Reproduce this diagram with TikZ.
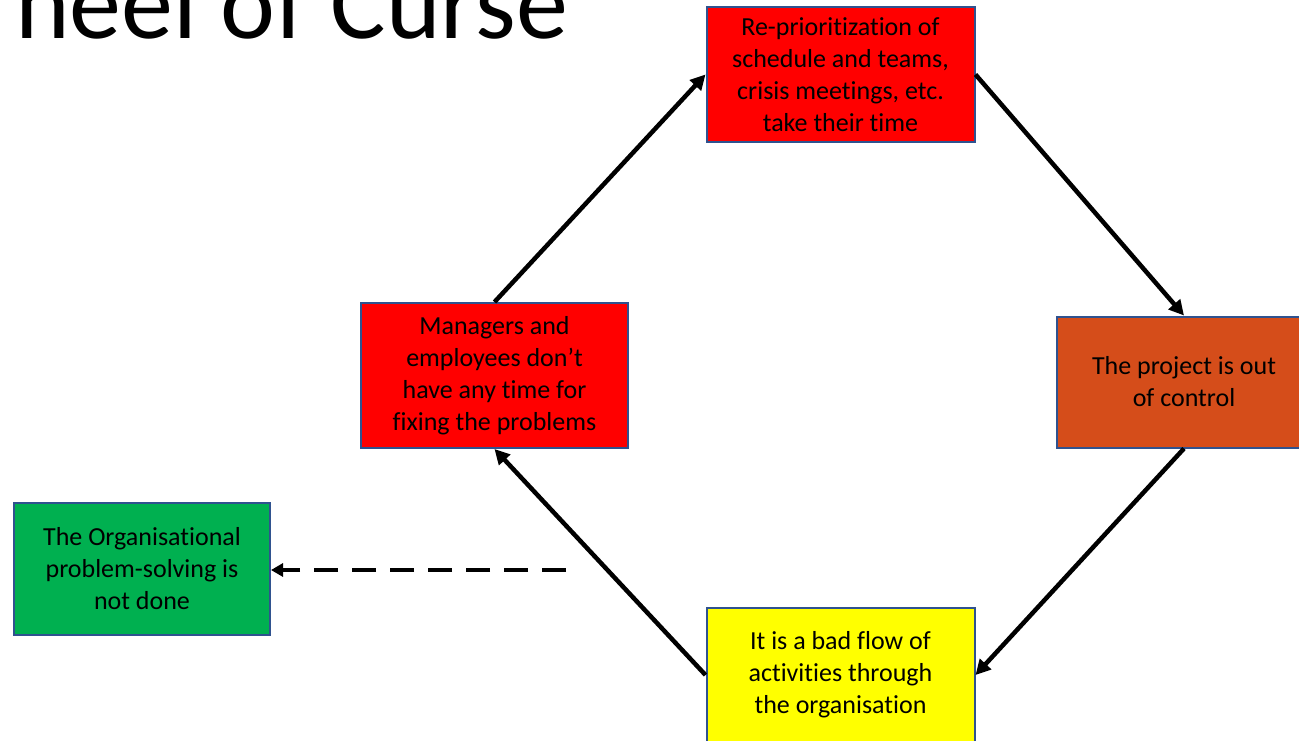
\documentclass[tikz,border=0pt]{standalone}
\usepackage{fontspec}
\setmainfont[Ligatures=NoCommon]{Carlito}
\newfontfamily\boxfont[Ligatures=NoCommon]{Carlito}
\usetikzlibrary{arrows.meta}
\definecolor{bordercol}{RGB}{47,82,143}
\definecolor{boxred}{RGB}{255,0,0}
\definecolor{boxorange}{RGB}{213,77,26}
\definecolor{boxgreen}{RGB}{0,176,80}
\definecolor{boxyellow}{RGB}{255,255,0}
\tikzset{
  stagebox/.style={draw=bordercol, line width=2pt, align=center, inner sep=0pt,
    font=\boxfont\fontsize{26}{32}\selectfont, text=black},
  flow/.style={line width=4.5pt, -{Triangle[length=15pt,width=15pt]}},
  sideflow/.style={line width=4.5pt, dash pattern=on 24pt off 14pt, -{Triangle[length=12pt,width=13pt]}},
}
\begin{document}
\begin{tikzpicture}[x=1pt,y=-1pt]
\useasboundingbox (0,0) rectangle (1299,740);
\clip (0,0) rectangle (1299,740);
\fill[white] (0,0) rectangle (1299,740);
\node[anchor=base west, inner sep=0pt, font=\fontsize{104}{110}\selectfont] (title) at (15,38) {heel of Curse};
\node[stagebox, fill=boxred, minimum width=268pt, minimum height=135pt] (top) at (840.5,74.5)
  {Re-prioritization of\\schedule and teams,\\crisis meetings, etc.\\take their time};
\node[stagebox, fill=boxorange, minimum width=254pt, minimum height=131pt] (proj) at (1184,382)
  {The project is out\\of control};
\node[stagebox, fill=boxyellow, minimum width=268pt, minimum height=134pt] (flowbox) at (840.5,675)
  {It is a bad flow of\\activities through\\the organisation};
\node[stagebox, fill=boxred, minimum width=267pt, minimum height=145pt] (mgr) at (494.5,375.5)
  {Managers and\\employees don’t\\have any time for\\fixing the problems};
\node[stagebox, fill=boxgreen, minimum width=256pt, minimum height=132pt] (org) at (142,569)
  {The Organisational\\problem-solving is\\not done};
\coordinate (dashstart) at (566,570);
\draw[flow] (mgr.north) -- (top.west);
\draw[flow] (top.east) -- (proj.north);
\draw[flow] (proj.south) -- (flowbox.east);
\draw[flow] (flowbox.west) -- (mgr.south);
\draw[sideflow] (dashstart) -- (org.east |- dashstart);
\end{tikzpicture}
\end{document}
